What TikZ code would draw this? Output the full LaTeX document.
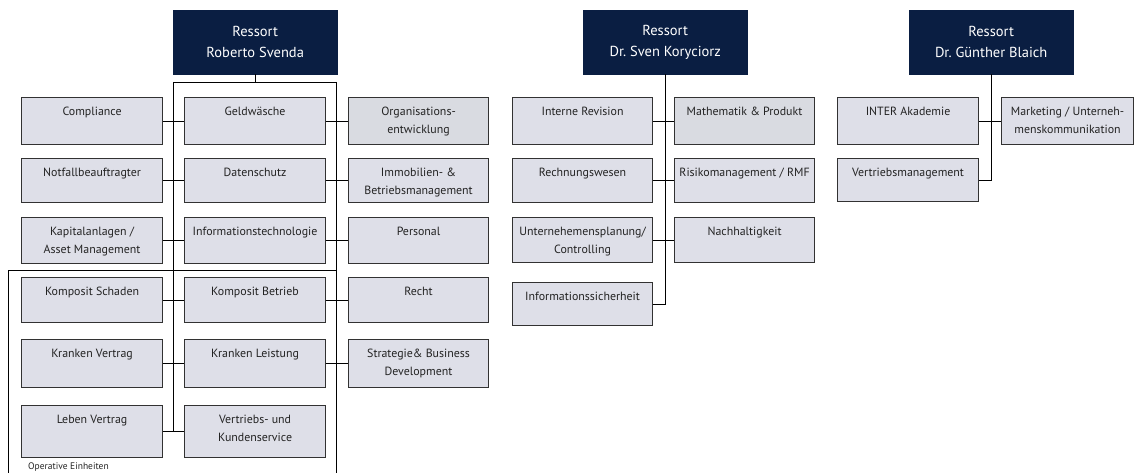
\documentclass[tikz,border=0pt]{standalone}
\usepackage{fontspec}
\setmainfont{PT Sans}
\definecolor{navy}{RGB}{10,30,66}
\definecolor{boxfill}{RGB}{222,223,232}
\definecolor{boxfillb}{RGB}{217,219,225}
\definecolor{boxline}{RGB}{50,50,50}
\definecolor{ink}{RGB}{35,35,35}
\tikzset{
  head/.style={draw=navy, fill=navy, text=white, font=\fontsize{14.5}{21}\selectfont, align=center,
    minimum width=164pt, minimum height=64pt, inner sep=0pt, anchor=north west},
  unit/.style={draw=boxline, line width=1.1pt, anchor=north west, inner sep=0pt},
  lbl/.style={anchor=north, inner sep=0pt, align=center, text=ink, font=\fontsize{11.9}{18}\selectfont},
  conn/.style={draw=black, line width=0.9pt},
  note/.style={anchor=west, inner sep=0pt, text=ink, font=\fontsize{9.5}{10}\selectfont}
}
\newcommand\ub[7][boxfill]{%
  \node[unit, fill=#1, minimum width=#5pt, minimum height=#6pt] (#2) at (#3,#4) {};
  \node[lbl] (#2t) at ([yshift=-9.6pt]#2.north) {#7};}
\begin{document}
\begin{tikzpicture}[x=1pt,y=-1pt]
\useasboundingbox (0,0) rectangle (1134,473);
% ---------- group 1 ----------
\node[head] (H1) at (173,10) {Ressort\\Roberto Svenda};
\ub{L1}{21}{97}{141}{47}{Compliance}
\ub{M1}{184}{97}{141}{47}{Geldwäsche}
\ub[boxfillb]{R1}{348}{97}{140}{47}{Organisations-\\entwicklung}
\ub{L2}{21}{158}{141}{44}{Notfallbeauftragter}
\ub{M2}{184}{158}{141}{44}{Datenschutz}
\ub{R2}{348}{158}{140}{44}{Immobilien- \&\\Betriebsmanagement}
\ub{L3}{21}{217}{141}{46}{Kapitalanlagen /\\Asset Management}
\ub{M3}{184}{217}{141}{46}{Informationstechnologie}
\ub{R3}{348}{217}{140}{46}{Personal}
\ub{L4}{21}{277}{141}{45}{Komposit Schaden}
\ub{M4}{184}{277}{141}{45}{Komposit Betrieb}
\ub{R4}{348}{277}{140}{45}{Recht}
\ub{L5}{21}{339}{141}{48}{Kranken Vertrag}
\ub{M5}{184}{339}{141}{48}{Kranken Leistung}
\ub{R5}{348}{339}{140}{48}{Strategie\& Business\\Development}
\ub{L6}{21}{405}{141}{52}{Leben Vertrag}
\ub{M6}{184}{405}{141}{52}{Vertriebs- und\\Kundenservice}
\coordinate (g1l) at (173,82);
\coordinate (g1r) at (336,82);
\coordinate (g1e) at (336,473);
\coordinate (op1) at (8,473);
\coordinate (op2) at (8,270);
\coordinate (op3) at (336,270);
\draw[conn] (H1.south) -- (H1.south |- g1l);
\draw[conn] (g1l) -- (g1r);
\draw[conn] (g1l) -- (g1l |- M6.west);
\draw[conn] (g1r) -- (g1e);
\draw[conn] (op1) -- (op2) -- (op3);
\foreach \r in {1,...,5}{
  \draw[conn] (L\r.east) -- (M\r.west);
  \draw[conn] (M\r.east) -- (R\r.west);
}
\draw[conn] (L6.east) -- (M6.west);
\node[note] (ops) at (28,467) {Operative Einheiten};
% ---------- group 2 ----------
\node[head] (H2) at (583,10) {Ressort\\Dr.\ Sven Koryciorz};
\ub{KL1}{512}{97}{140}{47}{Interne Revision}
\ub[boxfillb]{KR1}{674}{97}{140}{47}{Mathematik \& Produkt}
\ub{KL2}{512}{158}{140}{44}{Rechnungswesen}
\ub{KR2}{674}{158}{140}{44}{Risikomanagement / RMF}
\ub{KL3}{512}{217}{140}{45}{Unternehemensplanung/\\Controlling}
\ub{KR3}{674}{217}{140}{45}{Nachhaltigkeit}
\ub{KL4}{512}{282}{140}{43}{Informationssicherheit}
\draw[conn] (H2.south) -- (H2.south |- KL4.east) -- (KL4.east);
\foreach \r in {1,2,3}{
  \draw[conn] (KL\r.east) -- (KR\r.west);
}
% ---------- group 3 ----------
\node[head] (H3) at (909,10) {Ressort\\Dr.\ Günther Blaich};
\ub{BL1}{837}{97}{141}{47}{INTER Akademie}
\ub{BR1}{1001}{97}{132}{47}{Marketing / Unterneh-\\menskommunikation}
\ub{BL2}{837}{158}{141}{43}{Vertriebsmanagement}
\draw[conn] (H3.south) -- (H3.south |- BL2.east) -- (BL2.east);
\draw[conn] (BL1.east) -- (BR1.west);
\end{tikzpicture}
\end{document}
